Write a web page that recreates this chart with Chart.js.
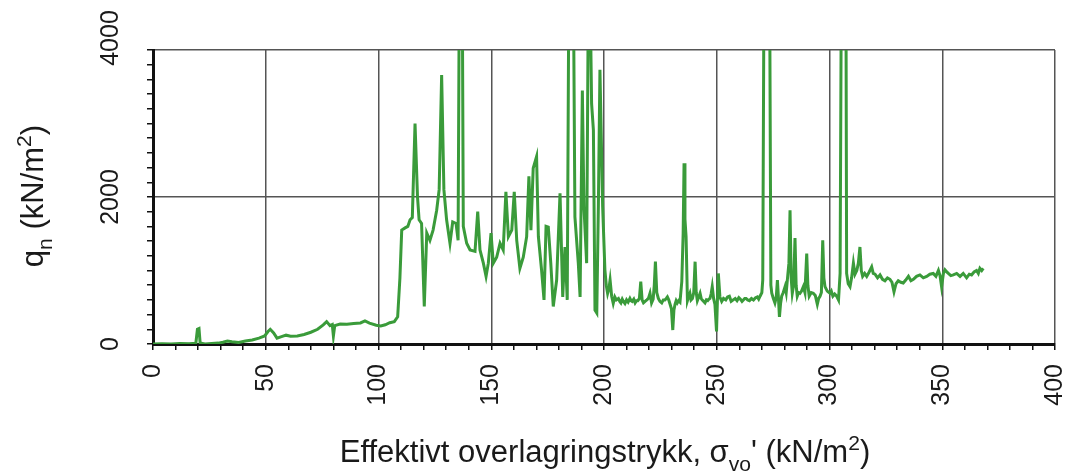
<!DOCTYPE html>
<html>
<head>
<meta charset="utf-8">
<script src="https://cdn.jsdelivr.net/npm/chart.js@4.4.1/dist/chart.umd.min.js"></script>
<style>
  body { margin: 0; background: #fff; }
  #wrap { width: 1072px; height: 476px; }
</style>
</head>
<body>
<div id="wrap"><canvas id="myChart"></canvas></div>
<script>
// effective overburden pressure, kN/m2
var sigmaV = [
  0, 4, 8, 12, 16, 19, 19.7, 20.4, 20.9, 23, 26, 29, 31, 33, 35, 38, 41, 44, 47, 49.5,
  51, 52, 53.5, 55, 57, 59, 61, 64, 67, 70, 73, 75.5, 77, 78.5, 79.5, 80, 80.6, 83, 86, 89,
  92, 94, 96, 99, 101, 103, 105, 107, 108.5, 109.5, 110.3, 111.8, 113, 114, 115, 116.2, 117.3, 118, 119.1, 120.3,
  121.4, 122.8, 124.2, 125.8, 126.9, 128, 129, 130.2, 131.7, 132.9, 134.4, 135.3, 136, 137, 137.6, 139.1, 140.6, 142.8, 144, 145,
  146.5, 147.7, 148.7, 149.9, 150.9, 152.4, 153.9, 155.3, 156.5, 157.6, 159.1, 160.2, 161.3, 162.7, 164.2, 165.7, 166.7, 167.6, 168.6, 170.1,
  170.9, 172.3, 173.4, 174.3, 175.3, 176.4, 177.5, 179, 180.5, 181.7, 182.7, 183.7, 184.6, 186.2, 187.1, 188.6, 189.4, 190.4, 191.1, 192.3,
  193.3, 194.5, 195.3, 196, 196.8, 197.5, 198.2, 199.4,
  200.4, 201, 201.6, 202.2, 202.7, 203.4, 204.1, 204.8, 205.5, 206.4,
  207, 207.5, 208.1, 208.6, 209.3, 210, 210.7, 211.5, 212, 212.5,
  213.2, 213.8, 214.4, 215, 215.7, 216.3, 216.9, 217.5, 218.2, 219,
  219.7, 220.4, 221.1, 221.8, 222.3, 222.8, 223.4, 224.1, 224.8, 225.6,
  226.3, 227, 227.6, 228.1, 228.7, 229.3, 229.9, 230.5, 231, 231.5,
  232, 232.5, 233.1, 233.7, 234.5, 235.1, 235.5, 235.9, 236.4, 237,
  237.5, 238.1, 238.6, 239.2, 239.8, 240.4, 240.9, 241.4, 242, 242.6,
  243.1, 243.5, 244.2, 244.8, 245.4, 246, 246.5, 247, 247.5, 248,
  248.6, 249.2, 249.9, 250.3, 250.7, 251.4, 252.2, 253, 254, 254.8,
  255.6, 256.4, 257.3, 258.2, 259, 259.8, 260.5, 261.2, 261.8, 262.4,
  263, 263.7, 264.5, 265.4, 266.3, 267.2, 268, 268.6, 269.2, 270,
  270.4, 271.1, 273.3, 274, 274.4, 275.1, 275.8, 276.4, 276.9, 277.4,
  277.8, 278.3, 278.8, 279.5, 280.3, 280.8, 281.3, 282, 282.5, 283,
  283.5, 284.1, 284.7, 285.2, 285.7, 286.3, 286.9, 287.6, 288.4, 289.1,
  289.9, 290.4, 291, 291.9, 292.8, 293.7, 294.6, 295.2, 295.8, 296.4,
  297, 297.5, 298, 299, 300.2, 300.8, 301.5, 302.3, 303.2, 304,
  304.7, 305.4, 307.2, 307.6, 308.3, 309.1, 309.8, 310.6, 311.3, 312.1,
  312.8, 313.5, 314.1, 314.7, 315.6, 316.5, 317.6, 318.7, 319.4, 320.2,
  321.3, 322.4, 323.5, 324.6, 325.7, 326.8, 327.7, 328.6, 329.5, 330.5,
  331.6, 332.7, 333.8, 335, 336.1, 337.2, 338.6, 340.1, 341.6, 343.1,
  344.5, 346, 347.2, 348.3, 349, 349.7, 350.5, 351.2, 352, 352.7,
  353.8, 354.9, 356.4, 357.9, 359.3, 360.8, 362, 363, 364.1, 365.2,
  366, 366.7, 367.5, 368.2
];

// net cone resistance qn, kN/m2 (spikes above 4000 run off the top)
var qn = [
  0, 5, 0, 8, 3, 10, 200, 210, 15, 0, 6, 12, 25, 40, 30, 20, 40, 55, 80, 110,
  170, 200, 150, 80, 100, 120, 105, 110, 130, 160, 200, 260, 305, 250, 265, 110, 250, 272, 268, 280,
  286, 313, 285, 255, 245, 262, 290, 305, 370, 900, 1550, 1580, 1600, 1690, 1720, 3000, 2000, 1690, 1640, 510,
  1510, 1410, 1550, 1820, 2100, 3660, 2100, 1690, 1370, 1660, 1640, 1410, 6000, 6000, 1600, 1370, 1280, 1260, 1800, 1280,
  1100, 920, 1100, 1510, 1100, 1180, 1370, 1280, 2070, 1460, 1550, 2070, 1410, 1030, 1180, 1460, 2280, 1550, 2390, 2550,
  1460, 1010, 600, 1600, 1590, 1100, 510, 870, 2050, 640, 1320, 600, 6000, 6000, 1730, 1100, 640, 3450, 1870, 1100,
  6000, 3270, 2910, 460, 420, 1870, 3730, 1870,
  1010, 800, 690, 760, 870, 650, 553, 640, 600, 620,
  580, 560, 610, 580, 550, 600, 570, 620, 590, 580,
  610, 560, 590, 590, 620, 850, 600, 560, 580, 600,
  620, 690, 560, 610, 800, 1120, 700, 620, 580, 560,
  600, 600, 620, 640, 600, 540, 480, 190, 460, 540,
  590, 560, 590, 570, 850, 1500, 2460, 1700, 1460, 590,
  640, 690, 600, 620, 700, 1120, 700, 590, 640, 690,
  620, 600, 580, 560, 600, 590, 610, 620, 680, 780,
  620, 540, 170, 600, 960, 640, 580, 620, 600, 640,
  650, 580, 600, 620, 590, 630, 610, 580, 600, 620,
  620, 600, 590, 620, 600, 630, 640, 610, 650, 700,
  870, 6000, 6000, 800, 690, 620, 560, 640, 870, 600,
  370, 550, 650, 700, 780, 700, 870, 1100, 1820, 900,
  690, 800, 1440, 800, 650, 700, 690, 720, 780, 700,
  1230, 800, 650, 700, 690, 660, 540, 620, 650, 700,
  1410, 900, 780, 720, 690, 720, 650, 680, 650, 600,
  960, 6000, 6000, 960, 820, 780, 900, 1100, 950, 1000,
  1100, 1320, 1000, 920, 960, 920, 980, 1050, 960, 950,
  900, 940, 880, 860, 900, 880, 840, 710, 820, 860,
  840, 830, 870, 920, 860, 880, 920, 940, 900, 920,
  950, 960, 920, 1000, 930, 780, 960, 1010, 980, 960,
  930, 940, 960, 920, 960, 900, 950, 940, 980, 1000,
  960, 1030, 1000, 1030
];

var xLabels = [0, 50, 100, 150, 200, 250, 300, 350, 400];
var yLabels = [0, 2000, 4000];

var points = sigmaV.map(function(s, i) { return { x: s, y: qn[i] }; });
var fontFam = '"Liberation Sans", Arial, Helvetica, sans-serif';

// rich text with sub/superscripts, centred on (0,0) horizontally
function drawRich(ctx, parts, size, baseline) {
  var w = 0;
  parts.forEach(function(p) {
    var fs = p.s ? size * 0.68 : size;
    ctx.font = fs + 'px ' + fontFam;
    p.w = ctx.measureText(p.t).width;
    w += p.w;
  });
  var cx = -w / 2;
  ctx.textAlign = 'left';
  ctx.textBaseline = 'alphabetic';
  parts.forEach(function(p) {
    var fs = p.s ? size * 0.68 : size;
    var dy = p.s === 'sub' ? size * 0.28 : (p.s === 'sup' ? -size * 0.38 : 0);
    ctx.font = fs + 'px ' + fontFam;
    ctx.fillText(p.t, cx, baseline + dy);
    cx += p.w;
  });
}

var axisText = {
  id: 'axisText',
  afterDraw: function(chart) {
    var ctx = chart.ctx;
    var xs = chart.scales.x, ys = chart.scales.y;
    ctx.save();
    ctx.fillStyle = '#1a1a1a';
    ctx.font = '25px ' + fontFam;
    ctx.textBaseline = 'middle';

    xLabels.forEach(function(v) {
      ctx.save();
      ctx.translate(xs.getPixelForValue(v), 364);
      ctx.rotate(-Math.PI / 2);
      ctx.textAlign = 'right';
      ctx.fillText(String(v), 0, 0);
      ctx.restore();
    });

    yLabels.forEach(function(v) {
      var py = ys.getPixelForValue(v);
      if (v === 4000) py -= 12;
      ctx.save();
      ctx.translate(111, py);
      ctx.rotate(-Math.PI / 2);
      ctx.textAlign = 'center';
      ctx.fillText(String(v), 0, 0);
      ctx.restore();
    });

    // x title
    ctx.save();
    ctx.translate(605, 0);
    drawRich(ctx, [
      { t: 'Effektivt overlagringstrykk, \u03c3' },
      { t: 'vo', s: 'sub' },
      { t: '\' (kN/m' },
      { t: '2', s: 'sup' },
      { t: ')' }
    ], 31, 462);
    ctx.restore();

    // y title
    ctx.save();
    ctx.translate(0, 196);
    ctx.rotate(-Math.PI / 2);
    drawRich(ctx, [
      { t: 'q' },
      { t: 'n', s: 'sub' },
      { t: ' (kN/m' },
      { t: '2', s: 'sup' },
      { t: ')' }
    ], 31, 43);
    ctx.restore();

    ctx.restore();
  }
};

var ctx = document.getElementById('myChart');
var myChart = new Chart(ctx, {
  type: 'line',
  data: {
    datasets: [{
      label: 'qn',
      data: points,
      borderColor: '#3a9b3a',
      borderWidth: 3,
      pointRadius: 0,
      tension: 0,
      fill: false
    }]
  },
  options: {
    responsive: true,
    maintainAspectRatio: false,
    animation: false,
    layout: { padding: { top: 50, right: 17, left: 0, bottom: 0 } },
    plugins: { legend: { display: false }, tooltip: { enabled: false } },
    scales: {
      x: {
        type: 'linear',
        min: 0,
        max: 400,
        afterFit: function(scale) { scale.height = 132; },
        ticks: { stepSize: 10, display: false },
        grid: {
          color: function(c) { return c.tick && c.tick.value % 50 === 0 ? '#555' : 'rgba(0,0,0,0)'; },
          lineWidth: 1.5,
          tickColor: '#111',
          tickLength: 6,
          drawTicks: true
        },
        border: { display: true, color: '#111', width: 3 }
      },
      y: {
        min: 0,
        max: 4000,
        afterFit: function(scale) { scale.width = 153; },
        ticks: { stepSize: 200, display: false },
        grid: {
          color: function(c) { return c.tick && c.tick.value % 2000 === 0 ? '#555' : 'rgba(0,0,0,0)'; },
          lineWidth: 1.5,
          tickColor: '#111',
          tickLength: 6,
          drawTicks: true
        },
        border: { display: true, color: '#111', width: 3 }
      }
    }
  },
  plugins: [axisText]
});
</script>
</body>
</html>
